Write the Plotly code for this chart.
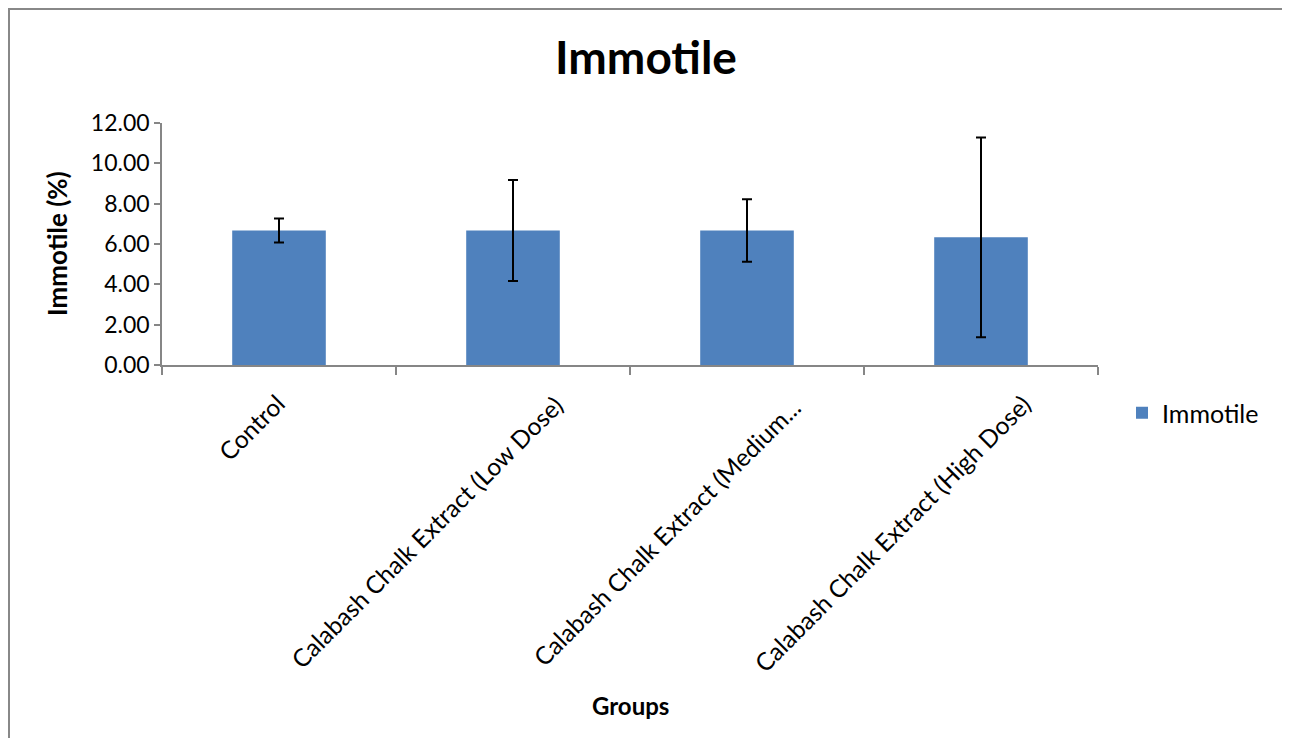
import plotly.graph_objects as go

categories = [
    "Control",
    "Calabash Chalk Extract (Low Dose)",
    "Calabash Chalk Extract (Medium...",
    "Calabash Chalk Extract (High Dose)",
]
immotile_mean = [6.67, 6.67, 6.67, 6.33]
immotile_err = [0.60, 2.50, 1.55, 4.95]
y_ticks = [0, 2, 4, 6, 8, 10, 12]

# rotated category-label centre offsets (px) from each category's axis point
label_shift = [(-28, -62), (-87, -167), (-81, -167), (-89, -168)]

FONT = "Lato"
OFF = 8  # page body margin
W, H = 1280, 730
L = 162 - OFF
R = W - (1098 - OFF)
T = 123 - OFF
B = H - (365 - OFF)
pw, ph = W - L - R, H - T - B

def px(x):
    return (x - OFF - L) / pw

def py(y):
    return (H - B - (y - OFF)) / ph

fig = go.Figure()
fig.add_trace(go.Bar(
    x=categories,
    y=immotile_mean,
    name="Immotile",
    marker=dict(color="#4F81BD", line=dict(width=0)),
    error_y=dict(type="data", array=immotile_err, visible=True,
                 color="black", thickness=2, width=5),
    showlegend=True,
))

annotations = [
    dict(text=cat, xref="x", yref="y", x=cat, y=0,
         xshift=dx, yshift=dy, textangle=-45,
         xanchor="center", yanchor="middle", showarrow=False,
         font=dict(family=FONT, size=24.5, color="black"))
    for cat, (dx, dy) in zip(categories, label_shift)
]
annotations += [
    dict(text="<b>Groups</b>", xref="paper", yref="paper",
         x=px(630), y=py(705), xanchor="center", yanchor="middle",
         showarrow=False, font=dict(family=FONT, size=24)),
    dict(text="<b>Immotile (%)</b>", xref="paper", yref="paper",
         x=px(57), y=py(244), xanchor="center", yanchor="middle",
         textangle=-90, showarrow=False, font=dict(family=FONT, size=26)),
]

fig.update_layout(
    width=W, height=H,
    margin=dict(l=L, r=R, t=T, b=B),
    paper_bgcolor="white", plot_bgcolor="white",
    font=dict(family=FONT, size=23, color="black"),
    bargap=0.6,
    title=dict(text="<b>Immotile</b>", x=px(646), xref="paper", xanchor="center",
               y=1 - (58 - OFF) / H, yanchor="middle",
               font=dict(family=FONT, size=46, color="black")),
    showlegend=True,
    legend=dict(x=px(1122), y=py(413), xanchor="left", yanchor="middle",
                font=dict(family=FONT, size=25), bgcolor="rgba(0,0,0,0)",
                itemwidth=30),
    xaxis=dict(
        type="category", automargin=False,
        showline=True, linecolor="#868686", linewidth=1.5,
        ticks="outside", ticklen=8, tickcolor="#868686", tickwidth=1.5,
        tickson="boundaries", showticklabels=False, showgrid=False,
    ),
    yaxis=dict(
        range=[0, 12], tickvals=y_ticks, tickformat=".2f", automargin=False,
        showline=True, linecolor="#868686", linewidth=1.5,
        ticks="outside", ticklen=6, tickcolor="#868686", tickwidth=1.5,
        showgrid=False, zeroline=False,
        tickfont=dict(family=FONT, size=23),
    ),
    annotations=annotations,
    shapes=[
        dict(type="rect", xref="paper", yref="paper",
             x0=px(9), x1=px(1285), y0=py(800), y1=py(9),
             line=dict(color="#888888", width=2), fillcolor="rgba(0,0,0,0)",
             layer="above"),
    ],
)

fig.write_html("out.html")
